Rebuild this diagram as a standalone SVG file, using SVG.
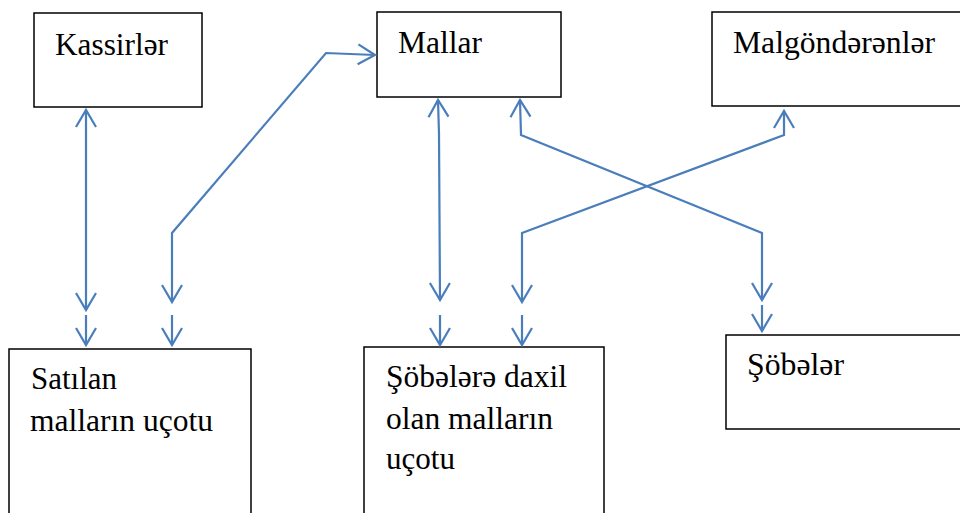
<svg xmlns="http://www.w3.org/2000/svg" width="960" height="513" viewBox="0 0 960 513">
<defs>
<marker id="ah" markerUnits="userSpaceOnUse" viewBox="-22 -14 26 28" markerWidth="26" markerHeight="28" refX="0" refY="0" orient="auto-start-reverse" overflow="visible">
<path d="M-17,-10 L0,0 L-17,10" fill="none" stroke="#4a7ebb" stroke-width="2.2" stroke-linejoin="miter"/>
</marker>
</defs>
<style>
.box{fill:#fff;stroke:#000;stroke-width:1.5}
.t{font-family:'Liberation Serif','Times New Roman','DejaVu Serif',serif;font-size:31px;fill:#000}
.c{fill:none;stroke:#4a7ebb;stroke-width:2.2;stroke-linejoin:miter}
.b{marker-start:url(#ah);marker-end:url(#ah)}
.e{marker-end:url(#ah)}
</style>
<rect width="960" height="513" fill="#fff"/>
<g id="kassirler"><rect class="box" x="34" y="13" width="168" height="94"/><text class="t" x="55" y="55" textLength="113" lengthAdjust="spacingAndGlyphs">Kassirlər</text></g>
<g id="mallar"><rect class="box" x="377" y="12" width="184" height="85"/><text class="t" x="398" y="53" textLength="84" lengthAdjust="spacingAndGlyphs">Mallar</text></g>
<g id="malgonderenler"><rect class="box" x="712" y="12" width="252" height="94"/><text class="t" x="733" y="53" textLength="202" lengthAdjust="spacingAndGlyphs">Malgöndərənlər</text></g>
<g id="satilan"><rect class="box" x="9" y="349" width="242" height="170"/><text class="t" x="31" y="389" textLength="86" lengthAdjust="spacingAndGlyphs">Satılan</text><text class="t" x="30" y="431" textLength="183" lengthAdjust="spacingAndGlyphs">malların uçotu</text></g>
<g id="sobelere-daxil"><rect class="box" x="364" y="347" width="240" height="172"/><text class="t" x="386" y="387" textLength="181" lengthAdjust="spacingAndGlyphs">Şöbələrə daxil</text><text class="t" x="386" y="429" textLength="167" lengthAdjust="spacingAndGlyphs">olan malların</text><text class="t" x="386" y="469" textLength="69" lengthAdjust="spacingAndGlyphs">uçotu</text></g>
<g id="sobeler"><rect class="box" x="726" y="335" width="240" height="94"/><text class="t" x="747" y="375" textLength="97" lengthAdjust="spacingAndGlyphs">Şöbələr</text></g>
<g id="connectors">
<path class="c b" d="M86,110 L86,310"/>
<path class="c e" d="M86,315 L86,345"/>
<path class="c b" d="M172,302 L172,233 L326,53 L375,55"/>
<path class="c e" d="M172,315 L172,345"/>
<path class="c b" d="M438,100 L439,134 L440,300"/>
<path class="c e" d="M440,315 L440,345"/>
<path class="c b" d="M520,100 L521,135 L762,233 L762,300"/>
<path class="c e" d="M762,305 L762,331"/>
<path class="c b" d="M784,111 L784,135 L522,233 L522,302"/>
<path class="c e" d="M522,315 L522,345"/>
</g>
</svg>
